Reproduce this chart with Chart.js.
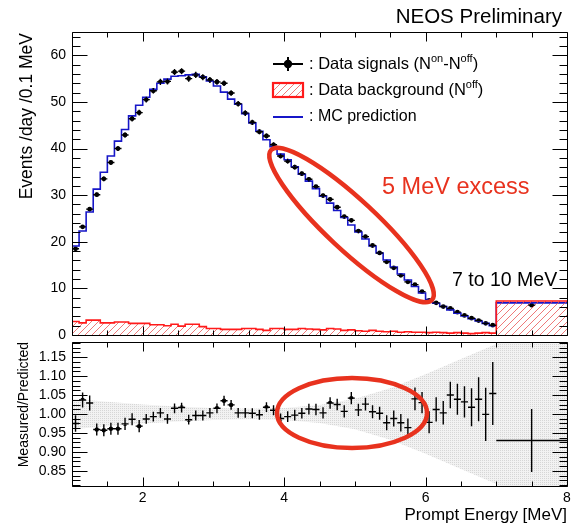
<!DOCTYPE html>
<html><head><meta charset="utf-8">
<script src="https://cdn.jsdelivr.net/npm/chart.js@4.4.0/dist/chart.umd.min.js"></script>
<style>
html,body{margin:0;padding:0;background:#fff;}
#wrap{position:relative;width:579px;height:530px;overflow:hidden;}
canvas{position:absolute;left:0;}
#c1{top:0;width:579px;height:345px;}
#c2{top:338px;width:579px;height:192px;}
</style></head><body>
<div id="wrap"><canvas id="c1" width="579" height="345"></canvas><canvas id="c2" width="579" height="192"></canvas></div>
<script>
// ---------------- data ----------------
const binLow = [1.0,1.1,1.2,1.3,1.4,1.5,1.6,1.7,1.8,1.9,2.0,2.1,2.2,2.3,2.4,2.5,2.6,2.7,2.8,2.9,3.0,3.1,3.2,3.3,3.4,3.5,3.6,3.7,3.8,3.9,4.0,4.1,4.2,4.3,4.4,4.5,4.6,4.7,4.8,4.9,5.0,5.1,5.2,5.3,5.4,5.5,5.6,5.7,5.8,5.9,6.0,6.1,6.2,6.3,6.4,6.5,6.6,6.7,6.8,6.9];
const binCenter = [1.05,1.15,1.25,1.35,1.45,1.55,1.65,1.75,1.85,1.95,2.05,2.15,2.25,2.35,2.45,2.55,2.65,2.75,2.85,2.95,3.05,3.15,3.25,3.35,3.45,3.55,3.65,3.75,3.85,3.95,4.05,4.15,4.25,4.35,4.45,4.55,4.65,4.75,4.85,4.95,5.05,5.15,5.25,5.35,5.45,5.55,5.65,5.75,5.85,5.95,6.05,6.15,6.25,6.35,6.45,6.55,6.65,6.75,6.85,6.95];
const mcPred = [19.1,22.3,26.4,31.3,34.9,38.4,41.6,44.1,47.0,49.3,51.0,52.7,54.0,54.9,55.5,55.6,55.8,55.9,55.4,54.5,53.4,52.1,50.6,49.5,47.5,45.5,43.7,41.9,40.4,38.8,37.6,36.1,34.5,33.0,31.4,29.8,28.3,26.7,25.2,23.6,22.1,20.6,19.1,17.6,16.1,14.6,13.1,11.8,10.4,9.0,7.6,6.8,6.1,5.4,4.7,4.1,3.5,3.0,2.5,2.0];
const dataSig = [18.5,23.2,27.0,30.1,33.5,37.0,40.0,42.9,46.4,47.7,50.5,52.4,54.3,54.4,56.4,56.6,55.0,55.8,55.3,54.7,54.3,54.0,51.9,49.6,47.6,45.6,43.6,42.7,40.8,38.4,37.3,36.0,34.6,33.4,31.8,29.9,29.1,27.4,25.4,24.6,22.3,21.1,19.2,17.6,15.7,14.4,12.8,11.4,10.8,9.3,7.4,6.9,6.1,5.7,4.9,4.2,3.6,3.1,2.5,2.1];
const dataErr = [0.4,0.4,0.45,0.45,0.5,0.5,0.55,0.55,0.6,0.6,0.6,0.6,0.65,0.65,0.65,0.65,0.65,0.65,0.65,0.65,0.6,0.6,0.6,0.6,0.6,0.55,0.55,0.55,0.55,0.5,0.5,0.5,0.5,0.5,0.45,0.45,0.45,0.45,0.4,0.4,0.4,0.4,0.35,0.35,0.33,0.3,0.3,0.28,0.3,0.26,0.22,0.22,0.2,0.2,0.2,0.17,0.17,0.17,0.17,0.17];
const bkgOff = [2.9,2.6,3.2,3.2,2.6,2.6,2.8,2.8,2.5,2.5,2.5,2.2,2.2,2.0,2.3,1.9,2.3,2.3,1.8,1.4,1.4,1.2,1.2,1.2,1.4,1.4,1.2,1.0,1.4,1.4,1.2,1.2,1.4,1.3,1.2,1.1,1.4,1.3,1.0,1.1,0.9,0.8,1.0,0.8,0.7,0.8,0.6,0.7,0.6,0.6,0.5,0.6,0.5,0.4,0.5,0.4,0.3,0.4,0.5,0.4];
const ratio = [0.975,1.037,1.029,0.959,0.957,0.961,0.961,0.974,0.986,0.968,0.987,0.993,1.003,0.987,1.015,1.017,0.985,0.996,0.996,1.003,1.015,1.035,1.024,1.003,1.003,1.002,0.998,1.018,1.010,0.988,0.993,0.997,1.002,1.013,1.012,1.003,1.029,1.025,1.007,1.042,1.011,1.026,1.006,1.002,0.977,0.988,0.977,0.964,1.040,1.030,0.978,1.012,1.003,1.050,1.039,1.032,1.018,1.039,0.999,1.054];
const ratioErr = [0.022,0.02,0.02,0.016,0.016,0.016,0.016,0.016,0.016,0.016,0.013,0.013,0.013,0.013,0.013,0.013,0.013,0.013,0.013,0.013,0.013,0.013,0.013,0.013,0.013,0.013,0.013,0.013,0.013,0.013,0.014,0.014,0.014,0.014,0.015,0.015,0.015,0.015,0.016,0.016,0.016,0.017,0.017,0.017,0.02,0.021,0.023,0.024,0.03,0.028,0.029,0.032,0.031,0.035,0.041,0.041,0.05,0.058,0.07,0.083];
// wide 7-10 MeV bin, shown between 7 and 8
const wideEdges = [7.0, 8.0];
const wideCenter = 7.5;
const wideMc = 6.9;
const wideBkg = 7.3;
const wideData = 6.4;
const wideDataErr = 0.15;
const wideRatio = 0.93;
const wideRatioErr = 0.083;
// MC uncertainty band on the ratio
const bandX =     [1.0,  1.5,  2.0,  2.5,  3.0,  3.5,  4.0,  4.5,  5.0,  5.5,  6.0,  6.5,  7.0, 7.0, 8.0];
const bandUpper = [1.040,1.032,1.025,1.020,1.016,1.014,1.016,1.024,1.040,1.068,1.105,1.145,1.185,1.25,1.25];
const bandLower = [0.960,0.968,0.975,0.980,0.984,0.986,0.984,0.976,0.960,0.932,0.895,0.855,0.815,0.75,0.75];
// tick labels
const topYTicks = [0,10,20,30,40,50,60];
const ratioYTicks = [0.85,0.90,0.95,1.00,1.05,1.10,1.15];
const xTicks = [2,4,6,8];

// ---------------- styles ----------------
const FONT = "'Liberation Sans', Arial, Helvetica, sans-serif";
const RED = '#e8321e';
function mkHatch() {
  const c = document.createElement('canvas'); c.width = 7; c.height = 7;
  const g = c.getContext('2d');
  g.strokeStyle = 'rgba(232,80,80,0.85)'; g.lineWidth = 0.9;
  g.beginPath();
  g.moveTo(0,7); g.lineTo(7,0);
  g.moveTo(-1,1); g.lineTo(1,-1);
  g.moveTo(6,8); g.lineTo(8,6);
  g.stroke();
  return g.createPattern(c,'repeat');
}
function mkDots() {
  const c = document.createElement('canvas'); c.width = 2; c.height = 2;
  const g = c.getContext('2d');
  g.fillStyle = '#f2f2f2'; g.fillRect(0,0,2,2);
  g.fillStyle = '#d6d6d6'; g.fillRect(0,0,1,1);
  return g.createPattern(c,'repeat');
}
const hatch = mkHatch();
const dots = mkDots();

// ---------------- plugins ----------------
const errbars = {
  id: 'errbars',
  afterDatasetsDraw(chart, args, o) {
    const {ctx, scales: {x, y}} = chart;
    ctx.save();
    ctx.strokeStyle = '#000'; ctx.lineWidth = o.lw || 1.3;
    ctx.beginPath();
    (o.sets || []).forEach(s => {
      for (let i = 0; i < s.x.length; i++) {
        const px = x.getPixelForValue(s.x[i]), py = y.getPixelForValue(s.y[i]);
        const x0 = x.getPixelForValue(s.x[i] - s.ex[i]), x1 = x.getPixelForValue(s.x[i] + s.ex[i]);
        const y0 = y.getPixelForValue(s.y[i] - s.ey[i]), y1 = y.getPixelForValue(s.y[i] + s.ey[i]);
        ctx.moveTo(x0, py); ctx.lineTo(x1, py);
        ctx.moveTo(px, y0); ctx.lineTo(px, y1);
      }
    });
    ctx.stroke();
    ctx.restore();
  }
};
const frame = {
  id: 'frame',
  afterDraw(chart, args, o) {
    const {ctx, chartArea: a, scales: {x, y}} = chart;
    ctx.save();
    ctx.strokeStyle = '#000'; ctx.lineWidth = 1;
    const L = Math.round(a.left) + 0.5, R = Math.round(a.right) + 0.5;
    const T = Math.round(a.top) + 0.5, B = Math.round(a.bottom) + 0.5;
    ctx.beginPath();
    ctx.rect(L, T, R - L, B - T);
    const n = Math.round((o.yTo - o.yFrom) / o.yStep);
    for (let k = 0; k <= n; k++) {
      const v = o.yFrom + k * o.yStep;
      const major = (k % o.yEvery) === o.yPhase;
      const len = major ? o.yMajorLen : o.yMinorLen;
      const py = Math.round(y.getPixelForValue(v)) + 0.5;
      if (py < T - 0.1 || py > B + 0.1) continue;
      ctx.moveTo(L, py); ctx.lineTo(L + len, py);
      ctx.moveTo(R, py); ctx.lineTo(R - len, py);
    }
    for (let k = 0; k <= 14; k++) {
      const v = 1 + k * 0.5;
      const major = (k % 2 === 0) && ((1 + k * 0.5) % 2 === 0);
      const len = major ? o.xMajorLen : o.xMinorLen;
      const px = Math.round(x.getPixelForValue(v)) + 0.5;
      ctx.moveTo(px, B); ctx.lineTo(px, B - len);
      ctx.moveTo(px, T); ctx.lineTo(px, T + len);
    }
    ctx.stroke();
    ctx.restore();
  }
};
const ellipses = {
  id: 'ellipses',
  afterDraw(chart, args, o) {
    const {ctx, scales: {x, y}} = chart;
    (o.items || []).forEach(e => {
      ctx.save();
      ctx.strokeStyle = RED; ctx.lineWidth = e.width;
      ctx.beginPath();
      ctx.ellipse(x.getPixelForValue(e.cx), y.getPixelForValue(e.cy), e.rx, e.ry, e.angle * Math.PI / 180, 0, 2 * Math.PI);
      ctx.stroke();
      ctx.restore();
    });
  }
};
const texts = {
  id: 'texts',
  afterDraw(chart, args, o) {
    const ctx = chart.ctx;
    const off = o.offsetY || 0;
    (o.items || []).forEach(t => {
      ctx.save();
      ctx.fillStyle = t.color || '#000';
      ctx.textBaseline = 'middle';
      ctx.translate(t.x, t.y - off);
      if (t.rot) ctx.rotate(t.rot);
      if (t.parts) {
        let cx = 0;
        ctx.textAlign = 'left';
        t.parts.forEach(p => {
          const sz = p[1] ? Math.round(t.size * 0.64) : t.size;
          ctx.font = sz + 'px ' + FONT;
          ctx.fillText(p[0], cx, p[1] ? -t.size * 0.3 : 0);
          cx += ctx.measureText(p[0]).width;
        });
      } else {
        ctx.font = t.size + 'px ' + FONT;
        ctx.textAlign = t.align || 'left';
        ctx.fillText(t.text, 0, 0);
      }
      ctx.restore();
    });
    // legend symbols
    (o.symbols || []).forEach(s => {
      ctx.save();
      const y = s.y - off;
      if (s.kind === 'data') {
        ctx.strokeStyle = '#000'; ctx.lineWidth = 2;
        ctx.beginPath(); ctx.moveTo(s.x0, y); ctx.lineTo(s.x1, y);
        ctx.moveTo((s.x0 + s.x1) / 2, y - 7); ctx.lineTo((s.x0 + s.x1) / 2, y + 7); ctx.stroke();
        ctx.fillStyle = '#000'; ctx.beginPath(); ctx.arc((s.x0 + s.x1) / 2, y, 4.2, 0, 2 * Math.PI); ctx.fill();
      } else if (s.kind === 'hatch') {
        ctx.fillStyle = '#fff'; ctx.fillRect(s.x0, y - 7, s.x1 - s.x0, 14);
        ctx.fillStyle = hatch; ctx.fillRect(s.x0, y - 7, s.x1 - s.x0, 14);
        ctx.strokeStyle = '#ff1a1a'; ctx.lineWidth = 2.2;
        ctx.strokeRect(s.x0, y - 7, s.x1 - s.x0, 14);
      } else if (s.kind === 'line') {
        ctx.strokeStyle = '#1616c8'; ctx.lineWidth = 2;
        ctx.beginPath(); ctx.moveTo(s.x0, y); ctx.lineTo(s.x1, y); ctx.stroke();
      }
      ctx.restore();
    });
  }
};

// ---------------- top panel ----------------
const mcPoints = binLow.map((x, i) => ({x, y: mcPred[i]})).concat([{x: wideEdges[0], y: wideMc}, {x: wideEdges[1], y: wideMc}]);
const bkgPoints = binLow.map((x, i) => ({x, y: bkgOff[i]})).concat([{x: wideEdges[0], y: wideBkg}, {x: wideEdges[1], y: wideBkg}]);
const dataPoints = binCenter.map((x, i) => ({x, y: dataSig[i]})).concat([{x: wideCenter, y: wideData}]);

new Chart(document.getElementById('c1'), {
  type: 'line',
  data: {
    datasets: [
      {data: bkgPoints, stepped: 'before', fill: 'origin', backgroundColor: hatch, borderColor: '#ff1a1a', borderWidth: 1.6, pointRadius: 0},
      {data: mcPoints, stepped: 'before', fill: false, borderColor: '#1616c8', borderWidth: 1.6, pointRadius: 0},
      {data: dataPoints, showLine: false, pointRadius: 2.4, pointBackgroundColor: '#000', pointBorderWidth: 0}
    ]
  },
  options: {
    responsive: false, animation: false, events: [],
    layout: {padding: {left: 0, top: 32, right: 12, bottom: 10}},
    scales: {
      x: {type: 'linear', min: 1, max: 8, display: false},
      y: {
        type: 'linear', min: 0, max: 65,
        afterBuildTicks: s => { s.ticks = topYTicks.map(v => ({value: v})); },
        afterFit: s => { s.width = 72; s.paddingTop = 0; s.paddingBottom = 0; },
        grid: {display: false, drawTicks: false}, border: {display: false},
        ticks: {padding: 6, color: '#000', font: {family: FONT, size: 14}}
      }
    },
    plugins: {
      legend: {display: false}, tooltip: {enabled: false},
      errbars: {sets: [{x: binCenter.concat([wideCenter]), y: dataSig.concat([wideData]), ey: dataErr.concat([wideDataErr]), ex: binCenter.map(() => 0.05).concat([0.05])}], lw: 1.4},
      frame: {yFrom: 0, yTo: 64, yStep: 2, yEvery: 5, yPhase: 0, yMajorLen: 15, yMinorLen: 8, xMajorLen: 9, xMinorLen: 5},
      ellipses: {items: [{cx: 4.953, cy: 23.6, rx: 110, ry: 25, angle: 43, width: 4.5}]},
      texts: {
        offsetY: 0,
        items: [
          {text: 'NEOS Preliminary', x: 562, y: 17, size: 20.5, align: 'right'},
          {text: 'Events /day /0.1 MeV', x: 27, y: 33, size: 17.5, align: 'right', rot: -Math.PI / 2},
          {parts: [[': Data signals (N'], ['on', 1], ['-N'], ['off', 1], [')']], x: 309, y: 64, size: 16.5},
          {parts: [[': Data background (N'], ['off', 1], [')']], x: 309, y: 90, size: 16.5},
          {text: ': MC prediction', x: 309, y: 117, size: 16},
          {text: '5 MeV excess', x: 382, y: 188, size: 23.5, color: RED},
          {text: '7 to 10 MeV', x: 452, y: 281, size: 19.5}
        ],
        symbols: [
          {kind: 'data', x0: 273, x1: 303, y: 64},
          {kind: 'hatch', x0: 273, x1: 303, y: 90},
          {kind: 'line', x0: 273, x1: 303, y: 117}
        ]
      }
    }
  },
  plugins: [errbars, frame, ellipses, texts]
});

// ---------------- ratio panel ----------------
const ratioPoints = binCenter.map((x, i) => ({x, y: ratio[i]})).concat([{x: wideCenter, y: wideRatio}]);
new Chart(document.getElementById('c2'), {
  type: 'line',
  data: {
    datasets: [
      {data: bandX.map((x, i) => ({x, y: bandUpper[i]})), fill: '+1', backgroundColor: dots, borderWidth: 0, pointRadius: 0, tension: 0},
      {data: bandX.map((x, i) => ({x, y: bandLower[i]})), fill: false, borderWidth: 0, pointRadius: 0, tension: 0},
      {data: [{x: 1, y: 1}, {x: 8, y: 1}], fill: false, borderColor: '#808080', borderWidth: 1, pointRadius: 0},
      {data: ratioPoints, showLine: false, pointRadius: 2.2, pointBackgroundColor: '#000', pointBorderWidth: 0}
    ]
  },
  options: {
    responsive: false, animation: false, events: [],
    layout: {padding: {left: 0, top: 4, right: 12, bottom: 0}},
    scales: {
      x: {
        type: 'linear', min: 1, max: 8,
        afterBuildTicks: s => { s.ticks = xTicks.map(v => ({value: v})); },
        afterFit: s => { s.height = 44; s.paddingLeft = 0; s.paddingRight = 0; },
        grid: {display: false, drawTicks: false}, border: {display: false},
        ticks: {padding: 4, color: '#000', maxRotation: 0, font: {family: FONT, size: 14}}
      },
      y: {
        type: 'linear', min: 0.81, max: 1.19,
        afterBuildTicks: s => { s.ticks = ratioYTicks.map(v => ({value: v})); },
        afterFit: s => { s.width = 72; s.paddingTop = 0; s.paddingBottom = 0; },
        grid: {display: false, drawTicks: false}, border: {display: false},
        ticks: {padding: 6, color: '#000', font: {family: FONT, size: 14}, callback: v => Number(v).toFixed(2)}
      }
    },
    plugins: {
      legend: {display: false}, tooltip: {enabled: false},
      errbars: {sets: [{x: binCenter.concat([wideCenter]), y: ratio.concat([wideRatio]), ey: ratioErr.concat([wideRatioErr]), ex: binCenter.map(() => 0.05).concat([0.5])}], lw: 1.4},
      frame: {yFrom: 0.8125, yTo: 1.1875, yStep: 0.0125, yEvery: 4, yPhase: 3, yMajorLen: 15, yMinorLen: 8, xMajorLen: 9, xMinorLen: 5},
      ellipses: {items: [{cx: 4.96, cy: 1.0026, rx: 75, ry: 35, angle: 0, width: 4.5}]},
      texts: {
        offsetY: 338,
        items: [
          {text: 'Measured/Predicted', x: 24, y: 342, size: 14, align: 'right', rot: -Math.PI / 2},
          {text: 'Prompt Energy [MeV]', x: 567, y: 515, size: 17, align: 'right'}
        ]
      }
    }
  },
  plugins: [errbars, frame, ellipses, texts]
});
</script>
</body></html>
